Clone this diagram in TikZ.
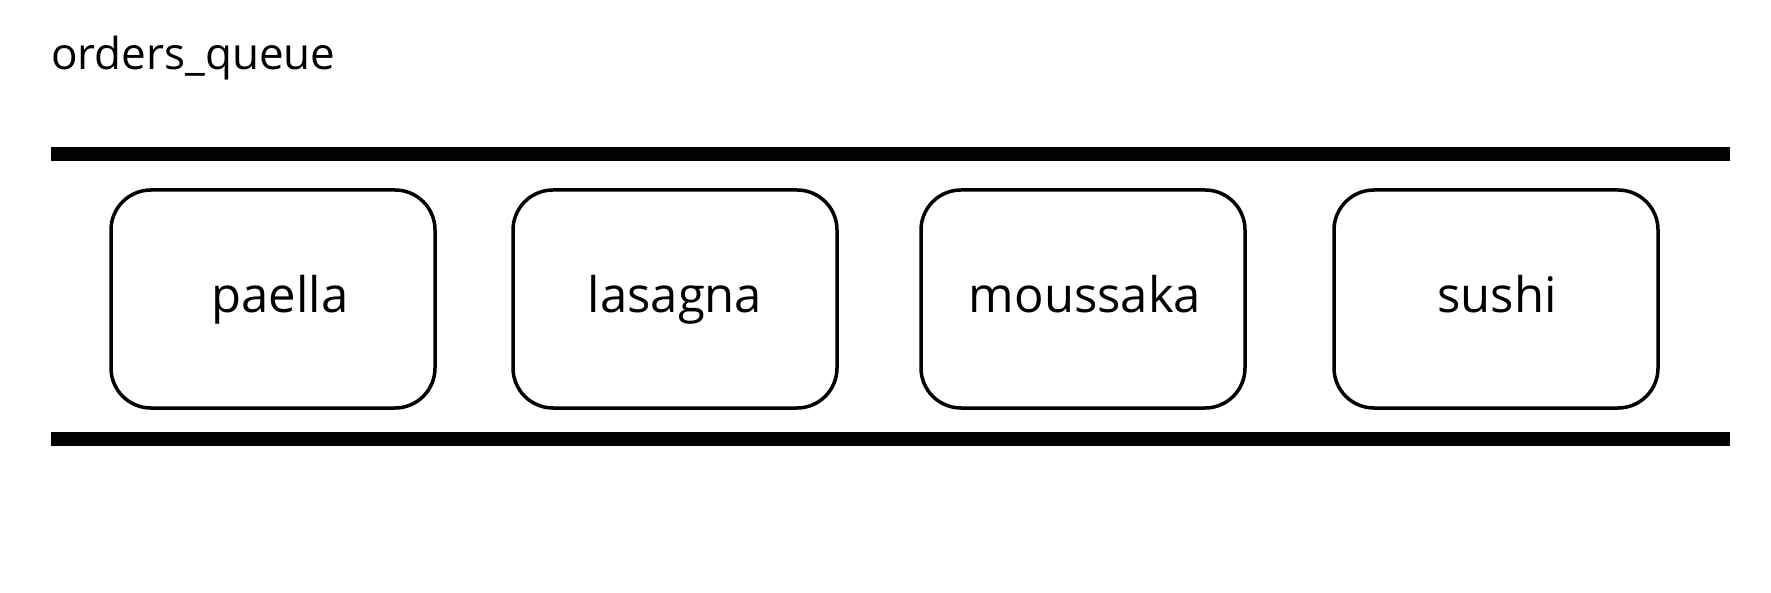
\documentclass[tikz,border=0pt]{standalone}
\usepackage{fontspec}
\setmainfont{Open Sans}
\begin{document}
\begin{tikzpicture}[x=1pt,y=1pt,
  bar/.style={line width=14pt},
  item/.style={draw, line width=3.5pt, rounded corners=40pt, minimum width=324pt, minimum height=218pt, inner sep=0pt},
  itemtext/.style={anchor=base, font=\fontsize{49}{59}\selectfont},
  titletext/.style={anchor=base west, inner sep=0pt, font=\fontsize{44}{53}\selectfont}]
\useasboundingbox (0,0) rectangle (1771,592);
\node[titletext] (title) at (51,522) {orders\_queue};
\coordinate (tl) at (51,438);
\coordinate (tr) at (1730,438);
\coordinate (bl) at (51,153);
\coordinate (br) at (1730,153);
\draw[bar] (tl) -- (tr);
\draw[bar] (bl) -- (br);
\node[item] (b1) at (273,293) {};
\node[item] (b2) at (675,293) {};
\node[item] (b3) at (1083,293) {};
\node[item] (b4) at (1496,293) {};
\node[itemtext] (t1) at (280,279) {paella};
\node[itemtext] (t2) at (675,279) {lasagna};
\node[itemtext] (t3) at (1085,279) {moussaka};
\node[itemtext] (t4) at (1497,279) {sushi};
\end{tikzpicture}
\end{document}
